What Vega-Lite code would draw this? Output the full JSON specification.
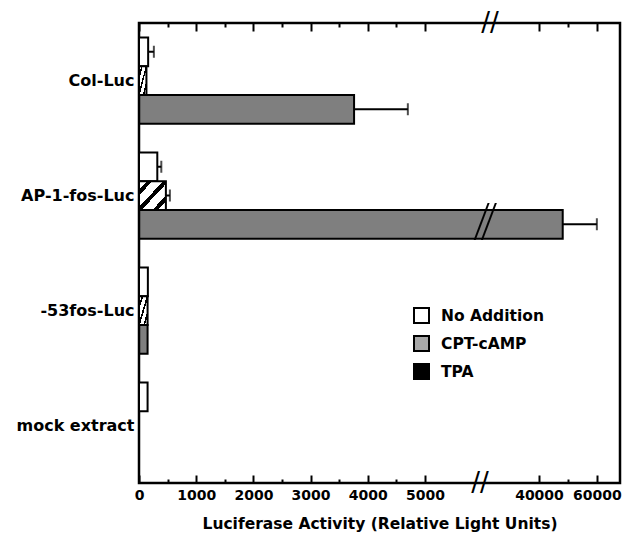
{
  "$schema": "https://vega.github.io/schema/vega-lite/v6.json",
  "width": 481,
  "height": 460,
  "autosize": "none",
  "padding": {"left": 139, "top": 23, "right": 22, "bottom": 52},
  "config": {
    "view": {"stroke": "black", "strokeWidth": 2.5},
    "font": "DejaVu Sans",
    "axis": {"domain": false, "grid": false, "labelColor": "black", "titleColor": "black", "tickColor": "black"},
    "legend": {"symbolStrokeColor": "black", "symbolStrokeWidth": 2}
  },
  "datasets": {
    "bars": [
      {"construct": "Col-Luc", "treatment": "No Addition", "value": 160, "err": 260},
      {"construct": "Col-Luc", "treatment": "CPT-cAMP", "value": 130, "err": null},
      {"construct": "Col-Luc", "treatment": "TPA", "value": 3760, "err": 4700},
      {"construct": "AP-1-fos-Luc", "treatment": "No Addition", "value": 320, "err": 390},
      {"construct": "AP-1-fos-Luc", "treatment": "CPT-cAMP", "value": 470, "err": 540},
      {"construct": "AP-1-fos-Luc", "treatment": "TPA", "value": 48200, "err": 60000},
      {"construct": "-53fos-Luc", "treatment": "No Addition", "value": 155, "err": null},
      {"construct": "-53fos-Luc", "treatment": "CPT-cAMP", "value": 150, "err": null},
      {"construct": "-53fos-Luc", "treatment": "TPA", "value": 150, "err": null},
      {"construct": "mock extract", "treatment": "No Addition", "value": 150, "err": null}
    ],
    "edgebreaks": [
      {"where": "top", "bx": 24960},
      {"where": "bottom", "bx": 21900}
    ],
    "barbreak": [
      {"construct": "AP-1-fos-Luc", "treatment": "TPA", "bx": 22400},
      {"construct": "AP-1-fos-Luc", "treatment": "TPA", "bx": 24600}
    ]
  },
  "resolve": {"axis": {"x": "independent"}},
  "layer": [
    {
      "data": {"name": "bars"},
      "mark": {"type": "bar", "stroke": "black", "strokeWidth": 2},
      "encoding": {
        "y": {
          "field": "construct", "type": "nominal",
          "scale": {"domain": ["Col-Luc", "AP-1-fos-Luc", "-53fos-Luc", "mock extract"], "paddingInner": 0.25, "paddingOuter": 0.125},
          "axis": {"title": null, "ticks": false, "domain": false, "labelFont": "DejaVu Sans", "labelFontWeight": "bold", "labelFontSize": 16, "labelPadding": 5, "labelColor": "black"}
        },
        "yOffset": {
          "field": "treatment", "type": "nominal",
          "scale": {"domain": ["No Addition", "CPT-cAMP", "TPA"], "paddingInner": 0, "paddingOuter": 0}
        },
        "x": {
          "field": "value", "type": "quantitative",
          "scale": {"domain": [0, 5000, 40000, 68000], "range": [0, 286, 400, 481], "nice": false, "zero": false},
          "axis": {
            "orient": "bottom",
            "values": [0, 500, 1000, 1500, 2000, 2500, 3000, 3500, 4000, 4500, 5000, 40000, 50000, 60000],
            "format": "d",
            "labelExpr": "(datum.value % 1000 === 0 && datum.value !== 50000) ? datum.label : ''",
            "tickSize": {"condition": {"test": "datum.value % 1000 === 0 && datum.value !== 50000", "value": -8}, "value": -4},
            "tickWidth": 2,
            "labelFontSize": 14,
            "labelFontWeight": "bold",
            "labelPadding": 13,
            "labelFlush": false,
            "labelOverlap": false,
            "title": "Luciferase Activity (Relative Light Units)",
            "titleFontSize": 15.5,
            "titleFontWeight": "bold",
            "titlePadding": 10
          }
        },
        "fill": {
          "condition": {
            "test": "datum.treatment === 'CPT-cAMP'",
            "value": {"gradient": "linear", "x1": 0, "y1": 0, "x2": 1, "y2": 1, "stops": [
              {"offset": 0, "color": "white"}, {"offset": 0.15, "color": "white"},
              {"offset": 0.15, "color": "black"}, {"offset": 0.25, "color": "black"},
              {"offset": 0.25, "color": "white"}, {"offset": 0.45, "color": "white"},
              {"offset": 0.45, "color": "black"}, {"offset": 0.55, "color": "black"},
              {"offset": 0.55, "color": "white"}, {"offset": 0.75, "color": "white"},
              {"offset": 0.75, "color": "black"}, {"offset": 0.85, "color": "black"},
              {"offset": 0.85, "color": "white"}, {"offset": 1, "color": "white"}
            ]}
          },
          "field": "treatment", "type": "nominal",
          "scale": {
            "domain": ["No Addition", "CPT-cAMP", "TPA"],
            "range": ["white", "#a8a8a8", "black"]
          },
          "legend": {
            "orient": "none", "legendX": 274, "legendY": 284, "title": null,
            "symbolType": "square", "symbolSize": 225, "symbolStrokeColor": "black", "symbolStrokeWidth": 2,
            "labelFont": "DejaVu Sans", "labelFontSize": 15.5, "labelFontWeight": "bold", "labelColor": "black",
            "labelOffset": 11, "rowPadding": 5, "padding": 0
          }
        },
        "fillOpacity": {"condition": {"test": "datum.treatment === 'TPA'", "value": 0.5}, "value": 1}
      }
    },
    {
      "data": {"name": "bars"},
      "transform": [{"filter": "datum.err != null"}],
      "mark": {"type": "rule", "color": "black", "strokeWidth": 2},
      "encoding": {
        "y": {"field": "construct", "type": "nominal"},
        "yOffset": {"field": "treatment", "type": "nominal"},
        "x": {
          "field": "value", "type": "quantitative",
          "axis": {
            "orient": "top",
            "values": [0, 500, 1000, 1500, 2000, 2500, 3000, 3500, 4000, 4500, 5000, 40000, 50000, 60000],
            "labels": false,
            "title": null,
            "tickSize": {"condition": {"test": "datum.value % 1000 === 0 && datum.value !== 50000", "value": -8}, "value": -4},
            "tickWidth": 2
          }
        },
        "x2": {"field": "err"}
      }
    },
    {
      "data": {"name": "bars"},
      "transform": [{"filter": "datum.err != null"}],
      "mark": {"type": "tick", "color": "black", "thickness": 2, "size": 12},
      "encoding": {
        "y": {"field": "construct", "type": "nominal"},
        "yOffset": {"field": "treatment", "type": "nominal"},
        "x": {"field": "err", "type": "quantitative", "axis": null}
      }
    },
    {
      "data": {"name": "barbreak"},
      "mark": {"type": "text", "text": "/", "font": "Noto Sans", "fontSize": 52, "fontWeight": 200, "color": "black", "align": "center", "baseline": "middle"},
      "encoding": {
        "y": {"field": "construct", "type": "nominal"},
        "yOffset": {"field": "treatment", "type": "nominal"},
        "x": {"field": "bx", "type": "quantitative", "axis": null}
      }
    },
    {
      "data": {"name": "edgebreaks"},
      "transform": [{"filter": "datum.where === 'top'"}],
      "mark": {"type": "text", "text": "//", "fontSize": 26, "color": "black", "align": "center", "baseline": "middle"},
      "encoding": {
        "x": {"field": "bx", "type": "quantitative", "axis": null},
        "y": {"value": 0}
      }
    },
    {
      "data": {"name": "edgebreaks"},
      "transform": [{"filter": "datum.where === 'bottom'"}],
      "mark": {"type": "text", "text": "//", "fontSize": 26, "color": "black", "align": "center", "baseline": "middle"},
      "encoding": {
        "x": {"field": "bx", "type": "quantitative", "axis": null},
        "y": {"value": {"expr": "height"}}
      }
    }
  ]
}
